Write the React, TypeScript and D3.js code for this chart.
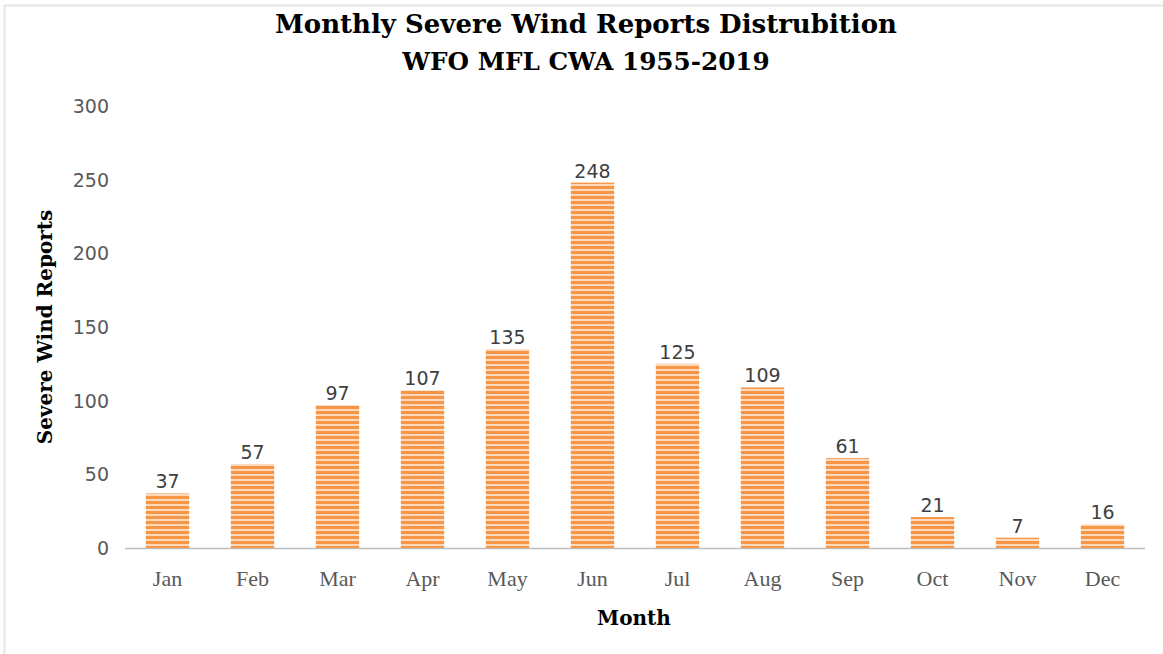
import React from "react";
import * as d3 from "d3";

const months = ["Jan", "Feb", "Mar", "Apr", "May", "Jun", "Jul", "Aug", "Sep", "Oct", "Nov", "Dec"];
const reports = [37, 57, 97, 107, 135, 248, 125, 109, 61, 21, 7, 16];
const yTicks = [0, 50, 100, 150, 200, 250, 300];
const titleLines = ["Monthly Severe Wind Reports Distrubition", "WFO MFL CWA 1955-2019"];

export default function App() {
  const W = 1163, H = 654;
  const x = d3.scaleBand<string>().domain(months).range([125, 1145]).paddingInner(0.49).paddingOuter(0.245);
  const y = d3.scaleLinear().domain([0, 300]).range([548, 106]);
  const serif = "'DejaVu Serif', serif";
  const labelSerif = "'Liberation Serif', serif";
  const sans = "'DejaVu Sans', sans-serif";
  return (
    <svg width={W} height={H} style={{ position: "absolute", left: 0, top: 0 }}>
      <defs>
        <pattern id="stripes" patternUnits="userSpaceOnUse" width="10" height="5">
          <rect x="0" y="0" width="10" height="5" fill="#fcd9bd" />
          <rect x="0" y="1" width="10" height="3" fill="#f79646" />
        </pattern>
      </defs>
      <rect x={0} y={0} width={W} height={H} fill="#fff" />
      <line x1={4.5} y1={5} x2={4.5} y2={H} stroke="#e6e6e6" strokeWidth={2} />
      <line x1={4} y1={5.5} x2={W} y2={5.5} stroke="#e6e6e6" strokeWidth={2} />
      {titleLines.map((t, i) => (
        <text key={t} x={586} y={33 + i * 37} textAnchor="middle" fontFamily={serif} fontWeight="bold" fontSize={i === 0 ? 26 : 24.7} fill="#000">
          {t}
        </text>
      ))}
      {yTicks.map((v) => (
        <text key={v} x={109} y={y(v) + 7} textAnchor="end" fontFamily={sans} fontSize={19} fill="#595959">
          {v}
        </text>
      ))}
      <line x1={125} x2={1145} y1={548.5} y2={548.5} stroke="#bfbfbf" strokeWidth={1.5} />
      {months.map((m, i) => (
        <g key={m}>
          <rect x={x(m)} y={y(reports[i])} width={x.bandwidth()} height={548 - y(reports[i])} fill="url(#stripes)" />
          <text x={(x(m) as number) + x.bandwidth() / 2} y={y(reports[i]) - 5} textAnchor="middle" fontFamily={sans} fontSize={19} fill="#404040">
            {reports[i]}
          </text>
          <text x={(x(m) as number) + x.bandwidth() / 2} y={586} textAnchor="middle" fontFamily={labelSerif} fontSize={22} fill="#595959">
            {m}
          </text>
        </g>
      ))}
      <text x={634} y={625} textAnchor="middle" fontFamily={serif} fontWeight="bold" fontSize={20} fill="#000">
        Month
      </text>
      <text transform={`translate(52,327) rotate(-90)`} textAnchor="middle" fontFamily={serif} fontWeight="bold" fontSize={20} fill="#000">
        Severe Wind Reports
      </text>
    </svg>
  );
}
